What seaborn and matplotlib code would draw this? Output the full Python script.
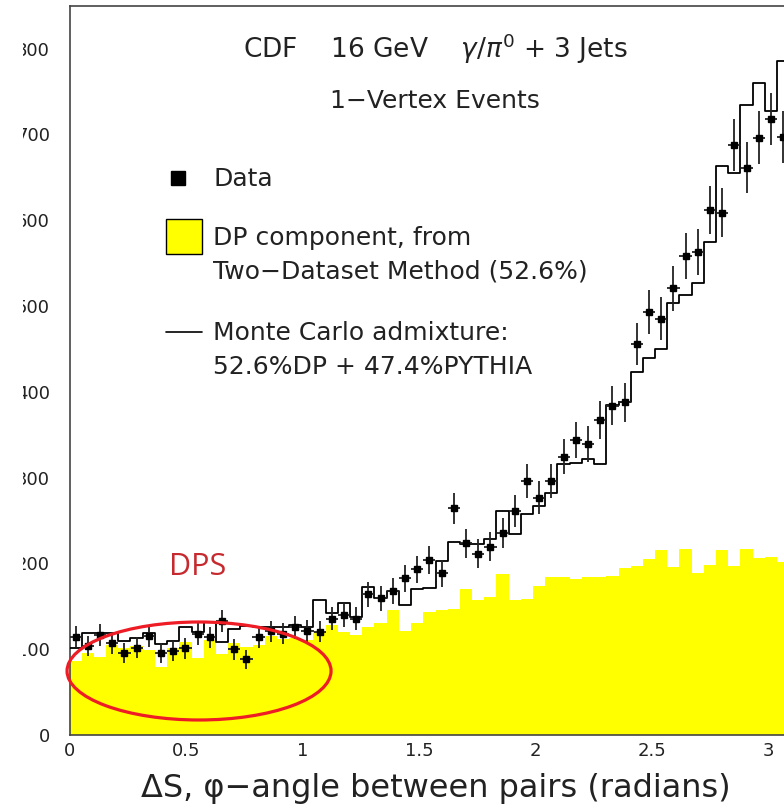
import numpy as np
import pandas as pd
import matplotlib
matplotlib.use("Agg")
import matplotlib.pyplot as plt
import seaborn as sns
from matplotlib.patches import Ellipse, Rectangle
from matplotlib.lines import Line2D
from matplotlib.ticker import MultipleLocator

# ---------------- data ----------------
n_bins = 60
x_max = np.pi

dp_component = [86.6, 95.5, 91.3, 104.9, 101.0, 103.7, 99.0, 79.6, 101.0, 108.7,
                89.4, 110.7, 94.0, 106.8, 102.2, 104.9, 115.5, 112.0, 113.0, 111.0,
                120.0, 127.8, 120.0, 117.0, 126.3, 130.5, 145.7, 121.0, 130.1, 143.7,
                145.7, 147.0, 169.8, 157.3, 160.3, 187.5, 157.3, 158.9, 173.7, 184.3,
                184.3, 181.8, 184.0, 184.0, 185.7, 194.2, 197.0, 204.8, 215.6, 195.5,
                216.8, 189.2, 198.1, 215.6, 197.0, 216.8, 206.6, 207.8, 202.0, 200.0]

mc_admixture = [101.0, 118.5, 118.5, 118.5, 109.6, 113.4, 118.5, 105.7, 109.6, 125.5,
                119.7, 131.3, 108.0, 123.5, 127.4, 126.0, 126.3, 126.3, 128.0, 126.3,
                157.3, 141.8, 154.2, 137.9, 172.8, 159.3, 168.0, 151.5, 170.0, 171.8,
                202.5, 225.0, 223.0, 223.0, 228.2, 261.2, 234.3, 257.4, 267.0, 281.7,
                315.5, 317.4, 321.3, 315.5, 384.6, 388.5, 422.8, 439.0, 449.5, 503.9,
                512.8, 527.2, 575.0, 663.2, 655.4, 734.3, 760.3, 727.3, 785.5, 780.0]

data_counts = [114.6, 103.7, 116.5, 106.8, 95.9, 101.7, 115.4, 95.9, 97.9, 101.0,
               117.7, 113.9, 132.9, 99.9, 88.2, 114.0, 120.8, 118.0, 125.3, 121.4,
               120.6, 135.4, 139.9, 135.6, 164.2, 159.6, 168.0, 182.6, 193.1, 204.0,
               188.5, 264.0, 223.4, 211.5, 219.5, 235.8, 261.4, 296.4, 276.8, 296.4,
               324.4, 343.8, 339.0, 367.1, 383.8, 387.7, 455.4, 493.0, 485.0, 520.6,
               558.3, 563.3, 611.9, 608.8, 687.6, 661.2, 696.2, 717.6, 697.3, 700.0]

data_errors = [12.5, 12.0, 12.5, 12.0, 11.5, 12.0, 12.5, 11.5, 11.5, 12.0,
               12.5, 12.5, 13.0, 12.0, 11.0, 12.5, 12.5, 12.5, 13.0, 12.5,
               12.5, 13.5, 13.5, 13.5, 14.5, 14.5, 15.0, 15.5, 16.0, 16.5,
               16.0, 18.5, 17.0, 17.0, 17.0, 17.5, 18.5, 20.0, 19.0, 20.0,
               20.5, 21.5, 21.0, 22.0, 22.5, 22.5, 24.5, 25.5, 25.0, 26.0,
               27.0, 27.0, 28.5, 28.5, 30.0, 29.5, 30.5, 30.5, 30.5, 30.5]

x_ticks = [0, 0.5, 1, 1.5, 2, 2.5, 3]
x_tick_labels = ["0", "0.5", "1", "1.5", "2", "2.5", "3"]
y_ticks = [0, 100, 200, 300, 400, 500, 600, 700, 800]
y_tick_labels = ["0", "100", "200", "300", "400", "500", "600", "700", "800"]

title_line1 = r"CDF    16 GeV    $\gamma/\pi^0$ + 3 Jets"
title_line2 = "1\u2212Vertex Events"
legend_texts = ["Data", "DP component, from", "Two\u2212Dataset Method (52.6%)",
                "Monte Carlo admixture:", "52.6%DP + 47.4%PYTHIA"]
x_label = "\u0394S, \u03c6\u2212angle between pairs (radians)"

bin_w = x_max / n_bins
centers = (np.arange(n_bins) + 0.5) * bin_w
df = pd.DataFrame({"x": centers, "dp": dp_component, "mc": mc_admixture,
                   "data": data_counts, "err": data_errors})

# ---------------- figure ----------------
sns.set_style("white")
plt.rcParams["font.family"] = ["DejaVu Sans"]
plt.rcParams["mathtext.fontset"] = "dejavusans"

W, H = 784, 809
fig = plt.figure(figsize=(W / 100, H / 100), dpi=100)

def fx(px):
    return px / W

def fy(py):
    return 1 - py / H

ax_left, ax_right, ax_top, ax_bot = 69.5, 801.5, 5.7, 735.0
ax = fig.add_axes([fx(ax_left), fy(ax_bot), (ax_right - ax_left) / W, (ax_bot - ax_top) / H])

sns.histplot(data=df, x="x", weights="dp", bins=n_bins, binrange=(0, x_max),
             element="step", fill=True, color="#ffff00", alpha=1, linewidth=0,
             ax=ax, zorder=1)
sns.histplot(data=df, x="x", weights="mc", bins=n_bins, binrange=(0, x_max),
             element="step", fill=False, color="black", linewidth=1.3, ax=ax, zorder=3)
ax.errorbar(df["x"], df["data"], yerr=df["err"], xerr=bin_w / 2, fmt="s", ms=5,
            color="black", ecolor="#222222", elinewidth=1.3, capsize=0, zorder=4)

ax.set_xlim(0, x_max)
ax.set_ylim(0, 850)
ax.set_xticks(x_ticks)
ax.set_xticklabels(x_tick_labels)
ax.set_yticks(y_ticks)
ax.set_yticklabels(y_tick_labels)
ax.xaxis.set_minor_locator(MultipleLocator(0.1))
ax.yaxis.set_minor_locator(MultipleLocator(20))
ax.tick_params(axis="both", which="major", direction="in", length=9.4, width=1.1,
               color="#333333", labelsize=13, labelcolor="#222222")
ax.tick_params(axis="both", which="minor", direction="in", length=5, width=1.1,
               color="#333333")
ax.tick_params(axis="y", which="major", pad=14)
ax.tick_params(axis="x", which="major", pad=5)
for s in ax.spines.values():
    s.set_color("#444444")
    s.set_linewidth(1.2)
ax.set_ylabel("")
ax.set_xlabel(x_label, fontsize=23, color="#222222")
ax.xaxis.set_label_coords(0.5, -0.052)

# red ellipse + DPS
ell = Ellipse((0.556, 74.6), 1.133, 114.2, fill=False, edgecolor="#ee1c25",
              linewidth=2.3, clip_on=False, zorder=6)
ax.add_patch(ell)
fig.text(fx(198), fy(567), "DPS", fontsize=22, color="#c62a2f",
         family=["Open Sans", "DejaVu Sans"], ha="center", va="center")

# titles
fig.text(fx(435), fy(49), title_line1, fontsize=19, color="#222222", ha="center", va="center")
fig.text(fx(435), fy(101), title_line2, fontsize=18, color="#222222", ha="center", va="center")

# legend (drawn by hand like ROOT's)
fig.add_artist(Line2D([fx(178.3)], [fy(178.3)], marker="s", ms=9.5, color="black",
                      linestyle="none", transform=fig.transFigure))
fig.add_artist(Rectangle((fx(166), fy(254.3)), 35.7 / W, 35 / H, facecolor="#ffff00",
                         edgecolor="black", linewidth=1.0, transform=fig.transFigure))
fig.add_artist(Line2D([fx(166), fx(201.7)], [fy(332.3), fy(332.3)], color="black",
                      linewidth=1.2, transform=fig.transFigure))
legend_y = [179, 238.3, 271.7, 333.3, 366.7]
for t, yy in zip(legend_texts, legend_y):
    fig.text(fx(213), fy(yy), t, fontsize=18, color="#222222", ha="left", va="center")

# the reference is cropped at the left: first digits of y labels hidden
fig.add_artist(Rectangle((0, 0), 23 / W, 1, facecolor="white", edgecolor="none",
                         transform=fig.transFigure, zorder=20))

fig.savefig("out.png", dpi=100)
